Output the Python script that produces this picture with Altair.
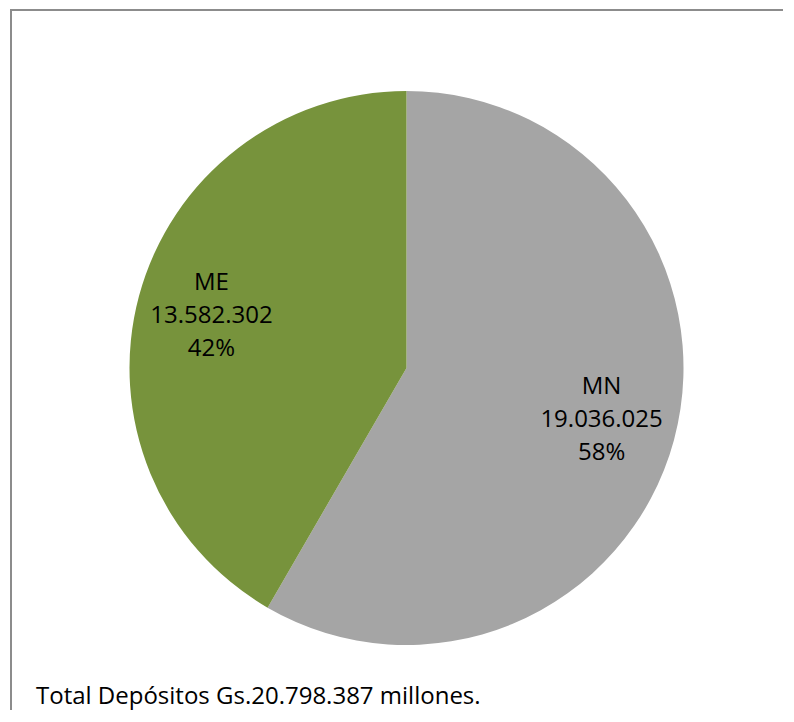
import altair as alt
import pandas as pd

categories = ["MN", "ME"]
values = [19036025, 13582302]
colors = ["#A5A5A5", "#77933C"]
footnote = "Total Depósitos Gs.20.798.387 millones."

total = sum(values)
def fmt(v):
    return f"{v:,}".replace(",", ".")

df = pd.DataFrame({
    "cat": categories,
    "value": values,
    "order": list(range(len(categories))),
})
df["label"] = [f"{c}\n{fmt(v)}\n{round(100 * v / total)}%" for c, v in zip(categories, values)]

CX, CY, R = 398.5, 360, 277
FONT = "Open Sans"
W, H = 778, 702

base = alt.Chart(df).encode(
    theta=alt.Theta("value:Q", stack=True),
    order=alt.Order("order:Q"),
)

pie = base.mark_arc(outerRadius=R, strokeWidth=0).encode(
    x=alt.value(CX),
    y=alt.value(CY),
    color=alt.Color("cat:N", scale=alt.Scale(domain=categories, range=colors), legend=None),
)

labels = base.mark_text(
    radius=202, font=FONT, fontSize=24, lineBreak="\n", lineHeight=33, dy=-33,
    align="center", baseline="middle", color="#000000",
).encode(
    x=alt.value(CX),
    y=alt.value(CY),
    text="label:N",
)

one = pd.DataFrame({"k": [0]})
frame_left = alt.Chart(one).mark_rule(color="#8C8C8C", strokeWidth=2).encode(
    x=alt.value(3), y=alt.value(1), y2=alt.value(H)
)
frame_top = alt.Chart(one).mark_rule(color="#8C8C8C", strokeWidth=2).encode(
    x=alt.value(2), x2=alt.value(W - 3), y=alt.value(2)
)

note = alt.Chart(pd.DataFrame({"t": [footnote]})).mark_text(
    font=FONT, fontSize=24, align="left", baseline="alphabetic", color="#000000"
).encode(x=alt.value(28), y=alt.value(696), text="t:N")

chart = alt.layer(frame_left, frame_top, pie, labels, note).properties(
    width=W, height=H, padding=0,
    autosize=alt.AutoSizeParams(type="none"),
).configure_view(stroke="transparent", strokeWidth=0)

chart.save("out.html", embed_options={"renderer": "svg", "actions": False})
